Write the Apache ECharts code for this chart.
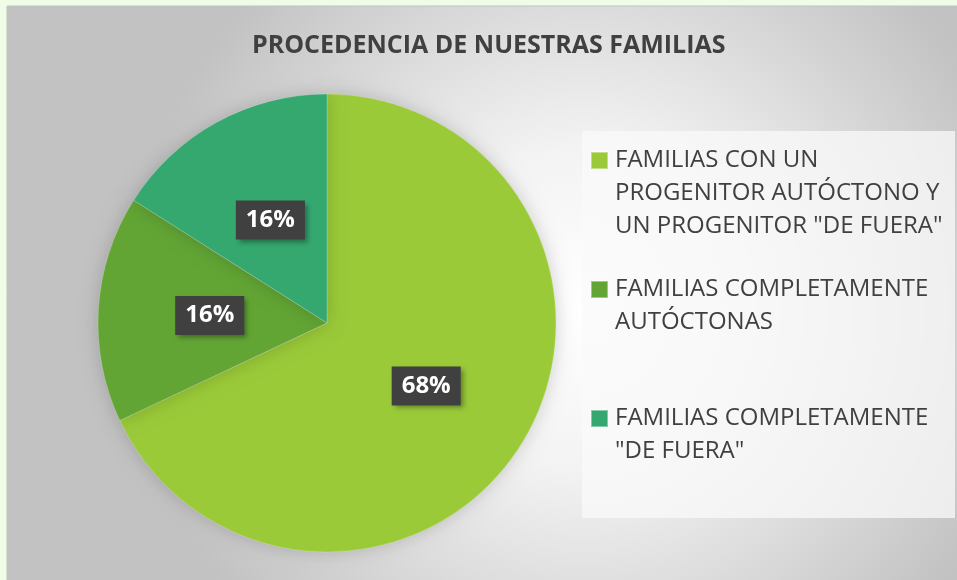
<!DOCTYPE html>
<html>
<head>
<meta charset="utf-8">
<script src="https://cdn.jsdelivr.net/npm/echarts@6/dist/echarts.min.js"></script>
<style>
  html, body { margin: 0; padding: 0; background: #f1fce6; }
  #chart { width: 957px; height: 580px; }
</style>
</head>
<body>
<div id="chart"></div>
<script>
const categories = [
  'FAMILIAS CON UN\nPROGENITOR AUTÓCTONO Y\nUN PROGENITOR "DE FUERA"',
  'FAMILIAS COMPLETAMENTE\nAUTÓCTONAS',
  'FAMILIAS COMPLETAMENTE\n"DE FUERA"'
]
const values = [68, 16, 16]
const colors = ['#9aca38', '#62a534', '#35a86f']

// posiciones de la leyenda (cada elemento por separado, como en Excel)
const legendTops = [143, 272, 401]
const legendLines = [3, 2, 2]
const lineH = 33

const chart = echarts.init(document.getElementById('chart'))
const font = '"Open Sans", sans-serif'

// icono cuadrado alineado con la primera línea del texto
function iconFor(lines) {
  const h = lines * lineH
  return 'path://M0,8H17V25H0Z M0,0L0.01,0 M0,' + h + 'L0.01,' + h
}

const option = {
  backgroundColor: '#f1fce6',
  color: colors,
  graphic: [
    {
      type: 'rect',
      z: -10,
      silent: true,
      shape: { x: 7, y: 6, width: 960, height: 580 },
      style: {
        fill: {
          type: 'radial', x: 0.6, y: 0.52, r: 0.78,
          colorStops: [
            { offset: 0, color: '#ffffff' },
            { offset: 0.35, color: '#f3f3f3' },
            { offset: 1, color: '#c2c2c2' }
          ]
        },
        stroke: '#c2c2c2',
        lineWidth: 1
      }
    },
    {
      type: 'rect',
      z: -9,
      silent: true,
      shape: { x: 582, y: 131, width: 373, height: 387 },
      style: { fill: 'rgba(250,250,250,0.75)' }
    }
  ],
  title: {
    text: 'PROCEDENCIA DE NUESTRAS FAMILIAS',
    left: 252,
    top: 32,
    padding: 0,
    textStyle: {
      fontFamily: font,
      fontSize: 25,
      fontWeight: 'bold',
      color: '#404040',
      lineHeight: 28
    }
  },
  legend: categories.map((name, i) => ({
    orient: 'vertical',
    left: 590,
    top: legendTops[i],
    padding: 0,
    icon: iconFor(legendLines[i]),
    itemWidth: 17,
    itemHeight: legendLines[i] * lineH,
    selectedMode: false,
    data: [name],
    textStyle: {
      fontFamily: font,
      fontSize: 24,
      color: '#404040',
      lineHeight: lineH,
      padding: [0, 0, 0, 2]
    }
  })),
  series: [
    {
      type: 'pie',
      center: [327, 323],
      radius: 229,
      startAngle: 90,
      clockwise: true,
      animation: false,
      itemStyle: {
        borderColor: 'rgba(255,255,255,0.4)',
        borderWidth: 0.5,
        shadowBlur: 18,
        shadowColor: 'rgba(0,0,0,0.18)'
      },
      label: {
        show: true,
        position: 'inside',
        formatter: '{d}%',
        fontFamily: font,
        fontSize: 24,
        lineHeight: 26,
        fontWeight: 'bold',
        color: '#ffffff',
        backgroundColor: '#404040',
        padding: [7, 10, 6, 10],
        shadowBlur: 5,
        shadowOffsetX: 3,
        shadowOffsetY: 3,
        shadowColor: 'rgba(0,0,0,0.35)'
      },
      labelLine: { show: false },
      data: categories.map((name, i) => ({ name: name, value: values[i] }))
    }
  ]
}

chart.setOption(option)
</script>
</body>
</html>
